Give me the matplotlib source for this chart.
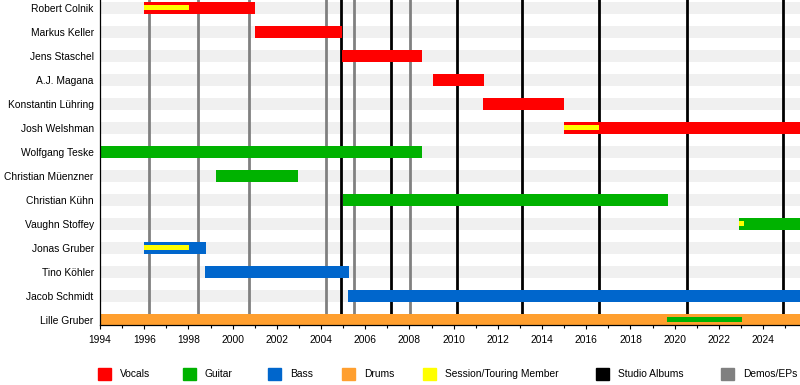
import matplotlib
matplotlib.use("Agg")
import matplotlib.pyplot as plt
from matplotlib.patches import Rectangle

# Bandmitglieder, von oben nach unten
members = ["Robert Colnik", "Markus Keller", "Jens Staschel", "A.J. Magana",
           "Konstantin Lühring", "Josh Welshman", "Wolfgang Teske",
           "Christian Müenzner", "Christian Kühn", "Vaughn Stoffey",
           "Jonas Gruber", "Tino Köhler", "Jacob Schmidt", "Lille Gruber"]

now = 2025.67

# Hauptbalken: Rolle, Beginn, Ende
main_role = ["Vocals", "Vocals", "Vocals", "Vocals", "Vocals", "Vocals", "Guitar",
             "Guitar", "Guitar", "Guitar", "Bass", "Bass", "Bass", "Drums"]
main_start = [1996.0, 2001.0, 2004.95, 2009.07, 2011.33, 2015.0, 1994.0,
              1999.25, 2005.0, 2022.91, 1996.0, 1998.75, 2005.22, 1994.0]
main_end = [2001.0, 2004.97, 2008.57, 2011.36, 2015.0, now, 2008.57,
            2002.94, 2019.69, now, 1998.78, 2005.25, now, now]

# schmale Zusatzbalken (Session / Zweitrolle)
inner_member = ["Robert Colnik", "Josh Welshman", "Vaughn Stoffey", "Jonas Gruber", "Lille Gruber"]
inner_role = ["Session/Touring Member", "Session/Touring Member", "Session/Touring Member",
              "Session/Touring Member", "Guitar"]
inner_start = [1996.0, 2015.0, 2022.91, 1996.0, 2019.67]
inner_end = [1998.03, 2016.59, 2023.12, 1998.03, 2023.05]

studio_albums = [2004.92, 2007.17, 2010.17, 2013.11, 2016.59, 2020.57, 2024.92]
demos_eps = [1996.23, 1998.42, 2000.76, 2004.24, 2005.51, 2008.04]

colors = {"Vocals": "#ff0000", "Guitar": "#00b200", "Bass": "#0066cc",
          "Drums": "#ff9f2f", "Session/Touring Member": "#ffff00",
          "Studio Albums": "#000000", "Demos/EPs": "#808080"}
legend_labels = ["Vocals", "Guitar", "Bass", "Drums", "Session/Touring Member",
                 "Studio Albums", "Demos/EPs"]
legend_x = [98, 183, 268, 342, 423, 596, 721]  # Pixel-Position der Kästchen

plt.rcParams['font.family'] = ['Liberation Sans', 'DejaVu Sans']

fig = plt.figure(figsize=(8, 3.85), dpi=100)
ax = fig.add_axes([100 / 800, 1 - 325 / 385, 700 / 800, 325 / 385])

rows = list(range(len(members)))
row_of = {m: i for i, m in enumerate(members)}

# graue Hintergrundstreifen
ax.barh(rows, now - 1994, left=1994, height=0.5, color="#f0f0f0", zorder=1)

# Alben / Demos
for x in demos_eps:
    ax.axvline(x, color=colors["Demos/EPs"], lw=2.0, zorder=2)
for x in studio_albums:
    ax.axvline(x, color=colors["Studio Albums"], lw=2.0, zorder=2)

# Balken
ax.barh(rows, [e - s for s, e in zip(main_start, main_end)], left=main_start,
        height=0.5, color=[colors[r] for r in main_role], zorder=3)
ax.barh([row_of[m] for m in inner_member], [e - s for s, e in zip(inner_start, inner_end)],
        left=inner_start, height=0.19, color=[colors[r] for r in inner_role], zorder=4)

ax.set_xlim(1994, now)
ax.set_ylim(13.229, -0.3125)
ax.set_yticks(rows)
ax.set_yticklabels(members, fontsize=7.4)
ax.tick_params(axis='y', length=0, pad=4.5)
ax.set_xticks(range(1994, 2025, 2))
ax.set_xticks(range(1995, 2026, 2), minor=True)
ax.tick_params(axis='x', which='major', length=3, width=0.8, labelsize=7.4, pad=4)
ax.tick_params(axis='x', which='minor', length=2.5, width=0.8)
for s in ['top', 'right']:
    ax.spines[s].set_visible(False)
for s in ['left', 'bottom']:
    ax.spines[s].set_linewidth(0.9)
    ax.spines[s].set_zorder(5)

# Legende unten
for lab, px in zip(legend_labels, legend_x):
    fig.patches.append(Rectangle((px / 800, 1 - 380 / 385), 12.5 / 800, 12.5 / 385,
                                 transform=fig.transFigure, color=colors[lab]))
    fig.text((px + 22) / 800, 1 - 374 / 385, lab, fontsize=7.4, va='center', ha='left')

fig.savefig("out.png", dpi=100)
